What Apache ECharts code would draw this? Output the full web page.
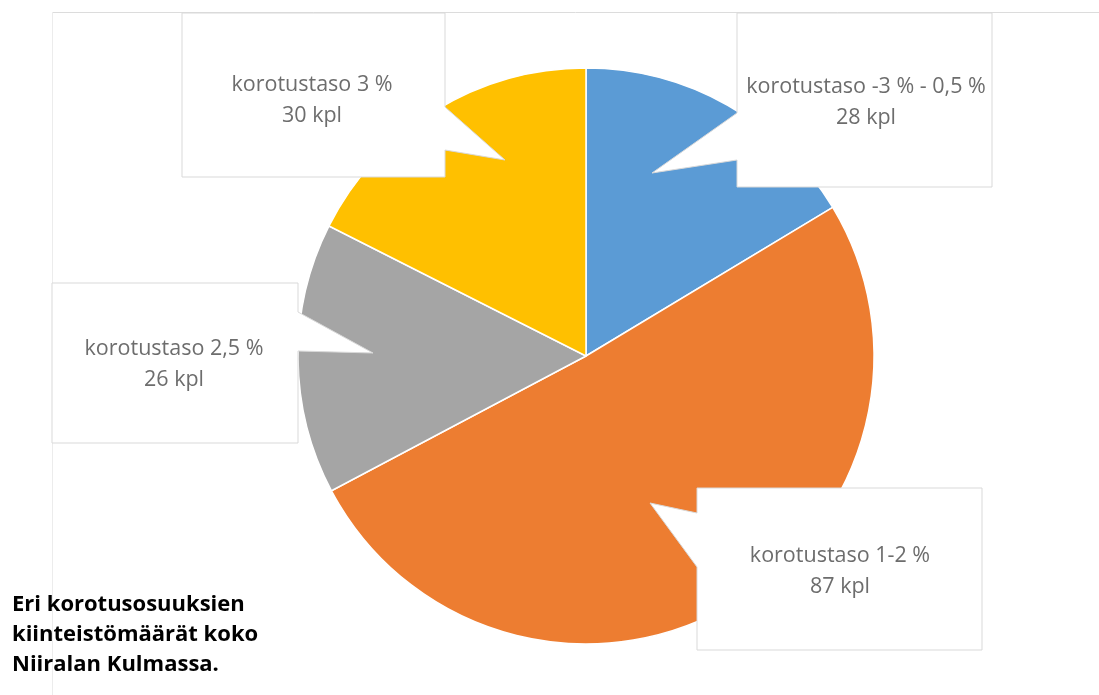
<!DOCTYPE html>
<html>
<head>
<meta charset="utf-8">
<script src="https://cdn.jsdelivr.net/npm/echarts@6/dist/echarts.min.js"></script>
<style>
html,body{margin:0;padding:0;background:#fff;}
#chart{width:1099px;height:695px;}
</style>
</head>
<body>
<div id="chart"></div>
<script>
// ---- data ----
const categories = ['korotustaso -3 % - 0,5 %', 'korotustaso 1-2 %', 'korotustaso 2,5 %', 'korotustaso 3 %'];
const values = [28, 87, 26, 30];
const unit = 'kpl';
const colors = ['#5B9BD5', '#ED7D31', '#A5A5A5', '#FFC000'];
const titleLines = ['Eri korotusosuuksien', 'kiinteistömäärät koko', 'Niiralan Kulmassa.'];

// ---- callout layout (box + pointer polygons) ----
const callouts = [
  { pts: [[737,13],[992,13],[992,187],[737,187],[737,160],[652,173],[737,113]], cx: 866, cy: 102 },
  { pts: [[697,488],[982,488],[982,650],[697,650],[697,567],[650,503],[697,513]], cx: 840, cy: 571 },
  { pts: [[52,283],[298,283],[298,312],[373,353],[298,351],[298,443],[52,443]], cx: 174, cy: 364 },
  { pts: [[182,13],[445,13],[445,107],[505,160],[445,150],[445,177],[182,177]], cx: 312, cy: 100 }
];

const chart = echarts.init(document.getElementById('chart'));

const graphics = [
  { type: 'line', shape: { x1: 52, y1: 12.5, x2: 1099, y2: 12.5 }, style: { stroke: '#dcdcdc', lineWidth: 1 }, z: 1 },
  { type: 'line', shape: { x1: 52.5, y1: 12, x2: 52.5, y2: 695 }, style: { stroke: '#ececec', lineWidth: 1 }, z: 1 }
];
callouts.forEach((c, i) => {
  graphics.push({
    type: 'polygon', shape: { points: c.pts },
    style: { fill: '#ffffff', stroke: '#d9d9d9', lineWidth: 1 }, z: 10
  });
  graphics.push({
    type: 'text', x: c.cx, y: c.cy, z: 11,
    style: {
      text: categories[i] + '\n' + values[i] + ' ' + unit,
      fill: '#6d6d6d', font: '21.5px "Open Sans"', lineHeight: 31,
      align: 'center', verticalAlign: 'middle'
    }
  });
});
graphics.push({
  type: 'text', left: 12, top: 590, z: 12,
  style: {
    text: titleLines.join('\n'), fill: '#000',
    font: 'bold 22px "Open Sans"', lineHeight: 30
  }
});

chart.setOption({
  animation: false,
  color: colors,
  series: [{
    type: 'pie',
    center: [586, 356],
    radius: [0, 288],
    startAngle: 90,
    clockwise: true,
    label: { show: false },
    labelLine: { show: false },
    itemStyle: { borderColor: '#ffffff', borderWidth: 1.5 },
    emphasis: { disabled: true },
    data: categories.map((n, i) => ({ name: n, value: values[i] }))
  }],
  graphic: graphics
});
</script>
</body>
</html>
